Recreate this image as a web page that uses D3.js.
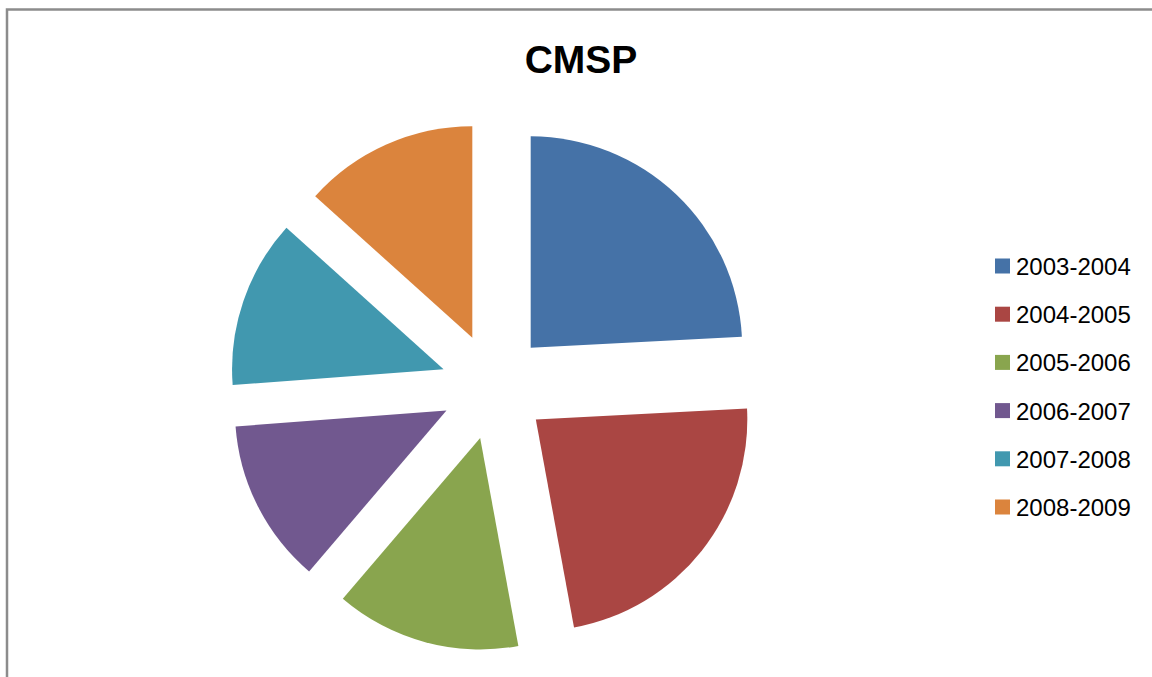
<!DOCTYPE html>
<html>
<head>
<meta charset="utf-8">
<script src="https://cdn.jsdelivr.net/npm/d3@7"></script>
<style>
  html, body { margin: 0; padding: 0; background: #fff; }
  svg { display: block; }
</style>
</head>
<body>
<svg id="chart" width="1152" height="677"></svg>
<script>
const title = "CMSP";
const categories = ["2003-2004", "2004-2005", "2005-2006", "2006-2007", "2007-2008", "2008-2009"];
const values = [24.17, 22.94, 14.14, 12.56, 12.86, 13.33];
const colors = ["#4572A7", "#AA4643", "#89A54E", "#71588F", "#4198AF", "#DB843D"];

const svg = d3.select("#chart");

// frame
svg.append("path")
  .attr("d", "M7,677 L7,9.5 L1152,9.5")
  .attr("fill", "none")
  .attr("stroke", "#8c8c8c")
  .attr("stroke-width", 2.5);

// title
svg.append("text")
  .attr("x", 581).attr("y", 73)
  .attr("text-anchor", "middle")
  .attr("font-family", "Liberation Sans, Arial, sans-serif")
  .attr("font-weight", "bold")
  .attr("font-size", 39)
  .text(title);

const cx = 494, cy = 386.5, r = 211.5, explode = 53.3;
const pie = d3.pie().sort(null).value(d => d)(values);
const arc = d3.arc().innerRadius(0).outerRadius(r);
const color = d3.scaleOrdinal().domain(categories).range(colors);

const g = svg.append("g").attr("transform", `translate(${cx},${cy})`);
g.selectAll("path").data(pie).join("path")
  .attr("d", arc)
  .attr("fill", (d, i) => color(categories[i]))
  .attr("transform", d => {
    const a = (d.startAngle + d.endAngle) / 2;
    return `translate(${explode * Math.sin(a)},${-explode * Math.cos(a)})`;
  });

// legend
const lg = svg.append("g").attr("transform", "translate(995,266)");
const rows = lg.selectAll("g").data(categories).join("g")
  .attr("transform", (d, i) => `translate(0,${i * 48.2})`);
rows.append("rect")
  .attr("x", 0).attr("y", -7.5).attr("width", 15).attr("height", 15)
  .attr("fill", d => color(d));
rows.append("text")
  .attr("x", 21).attr("y", 9)
  .attr("font-family", "Liberation Sans, Arial, sans-serif")
  .attr("font-size", 24)
  .attr("fill", "#000")
  .text(d => d);
</script>
</body>
</html>
